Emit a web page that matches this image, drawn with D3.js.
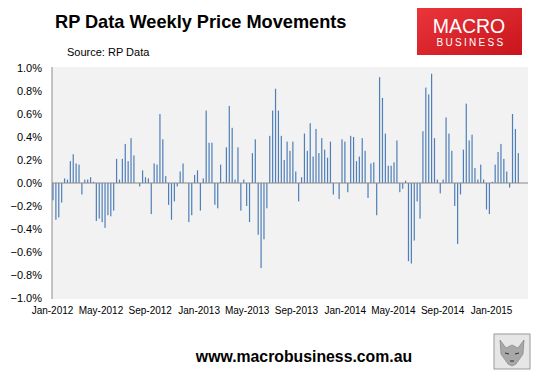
<!DOCTYPE html>
<html>
<head>
<meta charset="utf-8">
<script src="https://cdn.jsdelivr.net/npm/d3@7"></script>
<style>
body { margin: 0; background: #fff; }
svg { display: block; font-family: "Liberation Sans", Arial, sans-serif; }
</style>
</head>
<body>
<svg id="chart" width="539" height="372"></svg>
<script>
// weekly change in RP Data index, percent (one value per week, oldest first)
var weeklyChange = [
  -0.15, -0.32, -0.30, -0.17, 0.04, 0.03, 0.19, 0.25, 0.17, 0.16, -0.10, 0.03, 0.03, 0.05,
  0.01, -0.33, -0.31, -0.34, -0.39, -0.28, -0.29, -0.24, 0.21, 0.03, 0.21, 0.34, 0.19, 0.39,
  0.24, 0, -0.03, 0.11, 0.05, 0.04, -0.27, 0.17, 0.16, 0.60, 0.38, 0.06, -0.19, -0.32,
  -0.16, -0.03, 0.10, 0.17, 0, -0.34, -0.28, 0.07, 0.11, -0.24, 0.04, 0.63, 0.35,
  0.35, -0.19, -0.22, 0.16, 0.01, 0.31, 0.67, 0.48, 0.03, 0.31, -0.24, 0.03, -0.20, -0.34,
  0.26, 0.38, -0.45, -0.74, -0.49, -0.22, 0.41, 0.63, 0.82, 0.63, 0.41, 0.20, 0.36, 0.28,
  0.36, 0.10, -0.16, 0.05, 0.43, 0.28, 0.52, 0.23, 0.47, 0.26, 0.39, 0.29, 0.22, 0.36,
  -0.10, 0, -0.14, 0.38, 0.36, -0.08, 0.41, 0.40, 0.19, 0.23, 0.39, 0.28, -0.13, 0.17,
  0.18, -0.28, 0.92, 0.74, 0.43, 0.15, 0.15, 0.18, 0.37, -0.08, -0.05, 0.02, -0.68, -0.70,
  -0.50, -0.16, -0.31, 0.45, 0.83, 0.77, 0.95, 0.39, 0.03, -0.09, 0.03, 0.57, 0.43, 0.28,
  -0.20, -0.53, -0.10, 0.29, 0.69, 0.37, 0.42, 0.13, 0.03, 0.16, 0.03, -0.23, -0.27,
  0.01, 0.16, 0.27, 0.34, 0.21, 0.10, -0.04, 0.60, 0.47, 0.26
];
var yTicks = [-1.0, -0.8, -0.6, -0.4, -0.2, 0.0, 0.2, 0.4, 0.6, 0.8, 1.0];
var xTickLabels = ["Jan-2012", "May-2012", "Sep-2012", "Jan-2013", "May-2013",
                   "Sep-2013", "Jan-2014", "May-2014", "Sep-2014", "Jan-2015"];

function main() {
    var svg = d3.select("#chart");
    var plotL = 52, plotR = 528, plotT = 68, plotB = 298;

    var weekIdx = d3.range(weeklyChange.length);
    var tickDates = xTickLabels.map(d3.timeParse("%b-%Y"));

    // bars sit on a week index, labels on a month/time scale over the same strip
    var x = d3.scaleLinear()
        .domain([0, weekIdx.length - 1])
        .range([plotL + 1, plotR - 9.7]);
    var xt = d3.scaleTime()
        .domain([tickDates[0], tickDates[tickDates.length - 1]])
        .range([plotL, plotL + 439]);
    var y = d3.scaleLinear().domain([-1, 1]).range([plotB, plotT]);

    // title + source
    svg.append("text")
        .attr("x", 55).attr("y", 28)
        .attr("font-size", 18.2).attr("font-weight", "bold")
        .text("RP Data Weekly Price Movements");
    svg.append("text")
        .attr("x", 67).attr("y", 56)
        .attr("font-size", 11)
        .text("Source: RP Data");

    // macrobusiness badge
    var defs = svg.append("defs");
    var grad = defs.append("linearGradient").attr("id", "red")
        .attr("x1", 0).attr("y1", 0).attr("x2", 1).attr("y2", 1);
    grad.append("stop").attr("offset", "0%").attr("stop-color", "#ea353b");
    grad.append("stop").attr("offset", "100%").attr("stop-color", "#c8141c");
    svg.append("rect")
        .attr("x", 417).attr("y", 8).attr("width", 105).attr("height", 47)
        .attr("fill", "url(#red)");
    svg.append("text")
        .attr("x", 469).attr("y", 33).attr("text-anchor", "middle")
        .attr("font-size", 19.5).attr("fill", "#fff")
        .text("MACRO");
    svg.append("text")
        .attr("x", 471).attr("y", 46).attr("text-anchor", "middle")
        .attr("font-size", 10).attr("letter-spacing", 2.3).attr("fill", "#fff")
        .text("BUSINESS");

    // plot area
    svg.append("rect")
        .attr("x", plotL).attr("y", plotT - 1)
        .attr("width", plotR - plotL).attr("height", plotB - plotT + 2)
        .attr("fill", "#f2f2f2");

    svg.append("line")
        .attr("x1", plotL).attr("x2", plotL)
        .attr("y1", plotT - 1).attr("y2", plotB + 1)
        .attr("stroke", "#8c8c8c");

    svg.selectAll(".bar")
        .data(weeklyChange)
        .enter().append("rect")
        .attr("class", "bar")
        .attr("x", function(d, i) { return x(i) - 0.6; })
        .attr("width", 1.2)
        .attr("y", function(d) { return y(Math.max(0, d)); })
        .attr("height", function(d) { return Math.abs(y(d) - y(0)); })
        .attr("fill", "#4f7fb8");

    svg.append("line")
        .attr("x1", plotL).attr("x2", plotR)
        .attr("y1", y(0)).attr("y2", y(0))
        .attr("stroke", "#888");

    // y axis labels
    var yAxis = d3.axisLeft(y)
        .tickValues(yTicks)
        .tickSize(0)
        .tickPadding(10)
        .tickFormat(function(d) { return d3.format(".1f")(d) + "%"; });
    var gy = svg.append("g").attr("transform", "translate(" + plotL + ",0)").call(yAxis);
    gy.select(".domain").remove();
    gy.selectAll("text").attr("font-size", 11).attr("fill", "#000")
        .attr("font-family", "Liberation Sans, Arial, sans-serif");

    // x axis labels
    var xAxis = d3.axisBottom(xt)
        .tickValues(tickDates)
        .tickSize(0)
        .tickPadding(9)
        .tickFormat(function(d, i) { return xTickLabels[i]; });
    var gx = svg.append("g").attr("transform", "translate(0," + plotB + ")").call(xAxis);
    gx.select(".domain").remove();
    gx.selectAll("text").attr("font-size", 10).attr("fill", "#000")
        .attr("font-family", "Liberation Sans, Arial, sans-serif");

    // footer
    svg.append("text")
        .attr("x", 304).attr("y", 362).attr("text-anchor", "middle")
        .attr("font-size", 15.8).attr("font-weight", "bold")
        .text("www.macrobusiness.com.au");

    // little wolf badge
    var wolf = svg.append("g").attr("transform", "translate(494,334)");
    wolf.append("rect").attr("width", 36).attr("height", 35)
        .attr("fill", "#e6e6e6").attr("stroke", "#9a9a9a");
    wolf.append("path")
        .attr("d", "M6,6 L12,14 L18,11 L24,14 L30,6 L29,20 L22,30 L18,32 L14,30 L7,20 Z")
        .attr("fill", "#a8a8a8").attr("stroke", "#777").attr("stroke-width", 0.6);
    wolf.append("path")
        .attr("d", "M11,19 L15,20 M21,20 L25,19 M16,27 L20,27")
        .attr("stroke", "#333").attr("stroke-width", 1.2);
}

main();
</script>
</body>
</html>
